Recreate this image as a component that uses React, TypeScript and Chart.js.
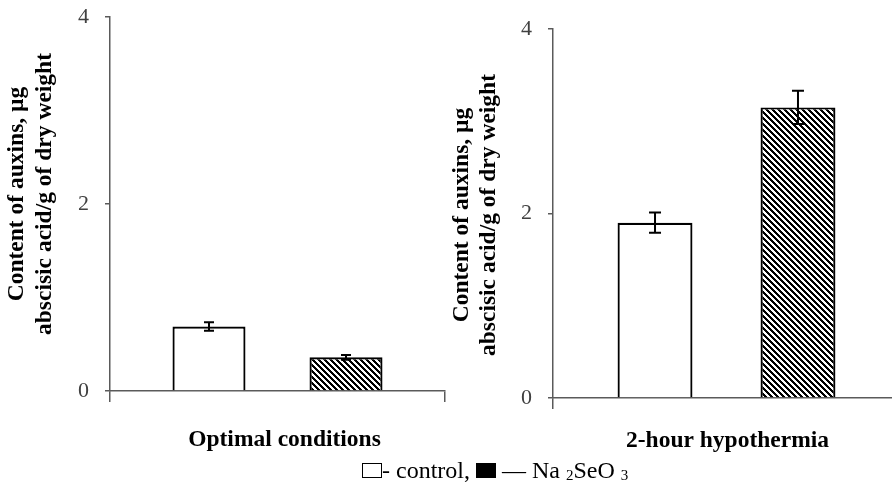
import React, { useEffect, useRef } from "react";
import { Chart, registerables } from "chart.js";

Chart.register(...registerables);

// ---- data ----
const CATEGORIES = ["Optimal conditions", "2-hour hypothermia"];
const SERIES_NAMES = ["control", "Na2SeO3"];
const CONTROL_VALUES = [0.69, 1.9];
const CONTROL_ERRORS = [0.045, 0.11];
const SELENITE_VALUES = [0.36, 3.15];
const SELENITE_ERRORS = [0.025, 0.18];
const Y_MIN = 0;
const Y_MAX = 4;
const Y_STEP = 2;
const Y_TITLE_LINES = ["Content of auxins, µg", "abscisic acid/g of dry weight"];

const SERIF = '"Liberation Serif", "Times New Roman", serif';
const AXIS_GRAY = "#5a5a5a";

function makeHatch(): CanvasPattern | string {
  const P = 6;
  const c = document.createElement("canvas");
  c.width = P;
  c.height = P;
  const ctx = c.getContext("2d");
  if (!ctx) return "#000";
  const img = ctx.createImageData(P, P);
  for (let y = 0; y < P; y++) {
    for (let x = 0; x < P; x++) {
      const k = (((x - y) % P) + P) % P;
      const v = k < P / 2 ? 0 : 255;
      const i = (y * P + x) * 4;
      img.data[i] = v;
      img.data[i + 1] = v;
      img.data[i + 2] = v;
      img.data[i + 3] = 255;
    }
  }
  ctx.putImageData(img, 0, 0);
  return ctx.createPattern(c, "repeat") || "#000";
}

const errorBarPlugin = {
  id: "errorBars",
  afterDatasetsDraw(chart: any) {
    const ctx = chart.ctx;
    const yScale = chart.scales.y;
    chart.data.datasets.forEach((ds: any, di: number) => {
      const meta = chart.getDatasetMeta(di);
      const errs: number[] = ds.errors || [];
      const cap: number = ds.capHalf || 5;
      meta.data.forEach((el: any, i: number) => {
        const v = ds.data[i];
        const e = errs[i] || 0;
        const x = el.x;
        const yT = yScale.getPixelForValue(v + e);
        const yB = yScale.getPixelForValue(v - e);
        ctx.save();
        ctx.strokeStyle = "#000";
        ctx.lineWidth = 2;
        ctx.beginPath();
        ctx.moveTo(x, yT);
        ctx.lineTo(x, yB);
        ctx.moveTo(x - cap, yT);
        ctx.lineTo(x + cap, yT);
        ctx.moveTo(x - cap, yB);
        ctx.lineTo(x + cap, yB);
        ctx.stroke();
        ctx.restore();
      });
    });
  },
};

type PanelCfg = {
  left: number;
  width: number;
  height: number;
  yWidth: number;
  padTop: number;
  padRight: number;
  padBottom: number;
  yTitleX: number;
  yTitleGap: number;
  yTitleCY: number;
  xTitleCX: number;
  xTitleCY: number;
  catPct: number;
  barPct: number;
  capHalf: number;
};

const PANELS: PanelCfg[] = [
  {
    left: 0, width: 446, height: 460, yWidth: 110, padTop: 17, padRight: 1, padBottom: 58,
    yTitleX: 17, yTitleGap: 27.5, yTitleCY: 194, xTitleCX: 284.5, xTitleCY: 440,
    catPct: 0.818, barPct: 0.533, capHalf: 5,
  },
  {
    left: 446, width: 460, height: 460, yWidth: 107, padTop: 29, padRight: 6, padBottom: 51,
    yTitleX: 15.5, yTitleGap: 27.5, yTitleCY: 215, xTitleCX: 281.5, xTitleCY: 441,
    catPct: 0.824, barPct: 0.524, capHalf: 6,
  },
];

function Panel({ index }: { index: number }) {
  const ref = useRef<HTMLCanvasElement | null>(null);
  const cfg = PANELS[index];
  useEffect(() => {
    if (!ref.current) return;
    const hatch = makeHatch();
    const titlesPlugin = {
      id: "panelTitles",
      afterDraw(chart: any) {
        const ctx = chart.ctx;
        ctx.save();
        ctx.fillStyle = "#000";
        ctx.font = `bold 23.5px ${SERIF}`;
        ctx.textAlign = "center";
        ctx.textBaseline = "middle";
        // x (category) title
        ctx.fillText(CATEGORIES[index], cfg.xTitleCX, cfg.xTitleCY);
        // y title, rotated, one line per entry
        Y_TITLE_LINES.forEach((line, li) => {
          ctx.save();
          ctx.translate(cfg.yTitleX + li * cfg.yTitleGap, cfg.yTitleCY);
          ctx.rotate(-Math.PI / 2);
          ctx.fillText(line, 0, 0);
          ctx.restore();
        });
        ctx.restore();
      },
    };
    const chart = new Chart(ref.current, {
      type: "bar",
      data: {
        labels: [CATEGORIES[index]],
        datasets: [
          {
            label: SERIES_NAMES[0],
            data: [CONTROL_VALUES[index]],
            errors: [CONTROL_ERRORS[index]],
            capHalf: cfg.capHalf,
            backgroundColor: "#ffffff",
            borderColor: "#000000",
            borderWidth: 2.2,
            categoryPercentage: cfg.catPct,
            barPercentage: cfg.barPct,
          } as any,
          {
            label: SERIES_NAMES[1],
            data: [SELENITE_VALUES[index]],
            errors: [SELENITE_ERRORS[index]],
            capHalf: cfg.capHalf,
            backgroundColor: hatch as any,
            borderColor: "#000000",
            borderWidth: 2.2,
            categoryPercentage: cfg.catPct,
            barPercentage: cfg.barPct,
          } as any,
        ],
      },
      options: {
        responsive: false,
        animation: false,
        devicePixelRatio: 1,
        layout: { padding: { top: cfg.padTop, right: cfg.padRight, left: 0, bottom: cfg.padBottom } },
        plugins: { legend: { display: false }, tooltip: { enabled: false } },
        scales: {
          x: {
            type: "category",
            grid: {
              display: true,
              drawOnChartArea: false,
              drawTicks: true,
              tickLength: 11,
              offset: true,
              color: AXIS_GRAY,
              lineWidth: 1.5,
            },
            border: { display: true, color: AXIS_GRAY, width: 1.5 },
            ticks: { display: false },
            title: { display: false },
          },
          y: {
            min: Y_MIN,
            max: Y_MAX,
            ticks: {
              stepSize: Y_STEP,
              color: "#404040",
              padding: 16,
              font: { family: SERIF, size: 22 },
            },
            grid: {
              display: true,
              drawOnChartArea: false,
              drawTicks: true,
              tickLength: 5,
              color: AXIS_GRAY,
              lineWidth: 1.5,
            },
            border: { display: true, color: AXIS_GRAY, width: 1.5 },
            title: { display: false },
            afterFit: (scale: any) => {
              scale.width = cfg.yWidth;
              scale.paddingTop = 4;
              scale.paddingBottom = 4;
            },
          },
        },
      } as any,
      plugins: [errorBarPlugin, titlesPlugin],
    });
    return () => chart.destroy();
  }, [index]);
  return (
    <canvas
      ref={ref}
      width={cfg.width}
      height={cfg.height}
      style={{ position: "absolute", left: cfg.left, top: 0, width: cfg.width, height: cfg.height }}
    />
  );
}

const boxStyle = (fill: string): React.CSSProperties => ({
  display: "inline-block",
  width: 20,
  height: 15,
  boxSizing: "border-box",
  border: "1.5px solid #000",
  background: fill,
  verticalAlign: "baseline",
});

export default function App() {
  return (
    <div
      style={{
        position: "fixed",
        left: 0,
        top: 0,
        width: 892,
        height: 491,
        overflow: "hidden",
        background: "#fff",
      }}
    >
      <Panel index={0} />
      <Panel index={1} />
      <div
        style={{
          position: "absolute",
          left: 362,
          top: 458,
          fontFamily: SERIF,
          fontSize: 24,
          lineHeight: "24px",
          whiteSpace: "nowrap",
          color: "#000",
        }}
      >
        <span style={boxStyle("#fff")} />- {SERIES_NAMES[0]},{" "}
        <span style={boxStyle("#000")} /> — Na{" "}
        <span style={{ fontSize: 15, position: "relative", top: 2 }}>2</span>SeO{" "}
        <span style={{ fontSize: 15, position: "relative", top: 2 }}>3</span>
      </div>
    </div>
  );
}
